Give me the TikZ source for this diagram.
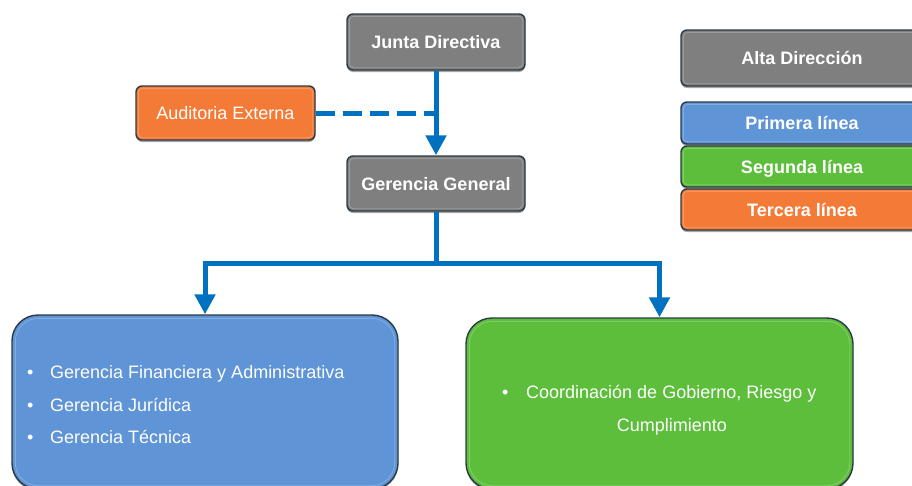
\documentclass[tikz,border=0pt]{standalone}
\usepackage{fontspec}
\setmainfont{Liberation Sans}
\usetikzlibrary{arrows.meta,shadows}
\definecolor{greyc}{HTML}{7F7F7F}
\definecolor{orangec}{HTML}{F47B37}
\definecolor{bluec}{HTML}{5F94D6}
\definecolor{greenc}{HTML}{5DBE3C}
\definecolor{linec}{HTML}{0070C0}
\definecolor{edgec}{HTML}{2A3A46}
\tikzset{
  box/.style={draw=edgec, line width=1.4pt, rounded corners=6pt, text=white,
    font=\bfseries\fontsize{18}{21}\selectfont, inner sep=0pt,
    text height=13pt, text depth=0pt,
    drop shadow={shadow xshift=0pt, shadow yshift=-2pt, opacity=0.35, fill=black}},
  plainbox/.style={box, font=\fontsize{18}{21}\selectfont},
  bigbox/.style={draw=edgec, line width=1.4pt, rounded corners=26pt, inner sep=0pt,
    drop shadow={shadow xshift=0pt, shadow yshift=-2pt, opacity=0.35, fill=black}},
  bevel/.style={draw=white, draw opacity=0.22, line width=0.9pt, rounded corners=4pt},
  bigbevel/.style={draw=white, draw opacity=0.22, line width=0.9pt, rounded corners=23pt},
  itm/.style={text=white, font=\fontsize{18}{21}\selectfont, inner sep=0pt, anchor=base west},
  conn/.style={draw=linec, line width=5pt, -{Triangle[width=20pt,length=20pt]}},
  plainline/.style={draw=linec, line width=5pt},
  dashline/.style={draw=linec, line width=5pt, dash pattern=on 19pt off 8pt}
}
\begin{document}
\begin{tikzpicture}[x=1pt,y=-1pt]
\useasboundingbox (0,0) rectangle (912,485);
\clip (0,0) rectangle (912,485);

% main chart
\node[box, fill=greyc, minimum width=178pt, minimum height=56pt] (jd) at (436,42) {Junta Directiva};
\node[plainbox, fill=orangec, minimum width=179pt, minimum height=54pt] (ae) at (225.5,113) {Auditoria Externa};
\node[box, fill=greyc, minimum width=178pt, minimum height=55pt] (gg) at (436,183.5) {Gerencia General};

\node[bigbox, fill=bluec, minimum width=386pt, minimum height=174pt] (fb) at (205,402) {};
\node[bigbox, fill=greenc, minimum width=387pt, minimum height=171pt] (gb) at (659.5,403.5) {};

% legend
\node[box, fill=greyc, minimum width=242pt, minimum height=56pt] (l0) at (802,58) {Alta Dirección};
\node[box, fill=bluec, minimum width=242pt, minimum height=42pt] (l1) at (802,123) {Primera línea};
\node[box, fill=greenc, minimum width=242pt, minimum height=41pt] (l2) at (802,166.5) {Segunda línea};
\node[box, fill=orangec, minimum width=242pt, minimum height=41pt] (l3) at (802,209.5) {Tercera línea};

% bevel highlights
\foreach \n in {jd,ae,gg,l0,l1,l2,l3}
  \draw[bevel] ([shift={(3pt,-3pt)}]\n.north west) rectangle ([shift={(-3pt,3pt)}]\n.south east);
\foreach \n in {fb,gb}
  \draw[bigbevel] ([shift={(4pt,-4pt)}]\n.north west) rectangle ([shift={(-4pt,4pt)}]\n.south east);

% connectors
\draw[dashline] (ae.east) -- (jd.south |- ae.east);
\draw[conn] (jd.south) -- (gg.north);
\coordinate (split) at (436,263);
\draw[plainline] (gg.south) -- (split);
\draw[conn] (split) -| (fb.north);
\draw[conn] (split) -| (gb.north);

% blue box items
\node[itm] (b1) at (27,378.5) {•};
\node[itm] (t1) at (50,378.5) {Gerencia Financiera y Administrativa};
\node[itm] (b2) at (27,411) {•};
\node[itm] (t2) at (50,411) {Gerencia Jurídica};
\node[itm] (b3) at (27,443.5) {•};
\node[itm] (t3) at (50,443.5) {Gerencia Técnica};

% green box items
\node[itm] (b4) at (502,398.5) {•};
\node[itm] (t4) at (526,398.5) {Coordinación de Gobierno, Riesgo y};
\node[itm, anchor=base] (t5) at (672,431) {Cumplimiento};
\end{tikzpicture}
\end{document}
